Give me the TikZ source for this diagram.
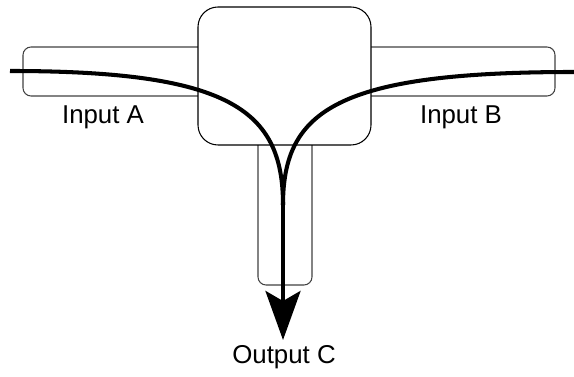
\documentclass[tikz,border=0pt]{standalone}
\usepackage{fontspec}
\setmainfont{Liberation Sans}
\usetikzlibrary{arrows.meta}
\tikzset{
  tube/.style={draw=black!75, line width=0.6pt, rounded corners=0.16cm},
  flow/.style={line width=2.3pt},
  label/.style={font=\fontsize{14.7}{17}\selectfont, inner sep=0pt}
}
\begin{document}
\begin{tikzpicture}[x=0.02cm, y=-0.02cm]
    \useasboundingbox (0,0) rectangle (574,377);
    % input and output tubes
    \draw[tube] (23,47) rectangle (230,96);
    \draw[tube] (355,47) rectangle (555,96);
    \draw[tube] (258,120) rectangle (312,285);
    % junction body
    \draw[fill=white, line width=0.6pt, rounded corners=0.4cm] (198,7) rectangle (371,145);
    % flow paths
    \coordinate (inA) at (10,71);
    \coordinate (inB) at (574,72);
    \coordinate (merge) at (283,205);
    \coordinate (outC) at (283,340);
    \draw[flow] (inA) .. controls (230,71) and (283,110) .. (merge);
    \draw[flow] (inB) .. controls (338,72) and (283,110) .. (merge);
    \draw[flow, -{Stealth[length=0.98cm, width=0.7cm, inset=0.2cm]}] (merge) -- (outC);
    % labels
    \node[label] (labA) at (103,117) {Input A};
    \node[label] (labB) at (461,117) {Input B};
    \node[label] (labC) at (284,357) {Output C};
\end{tikzpicture}
\end{document}
